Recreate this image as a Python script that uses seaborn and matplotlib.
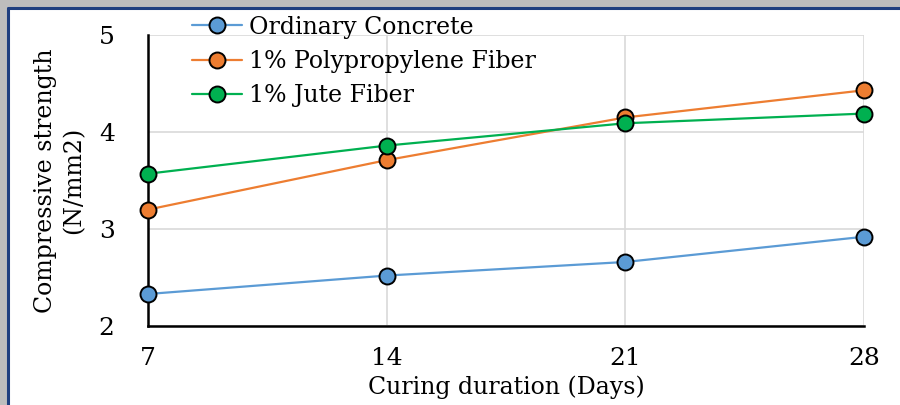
import matplotlib
matplotlib.use("Agg")
import matplotlib.pyplot as plt
import seaborn as sns
import pandas as pd
from matplotlib.patches import Rectangle
from matplotlib.lines import Line2D

days = [7, 14, 21, 28]
ordinary = [2.33, 2.52, 2.66, 2.92]
polypropylene = [3.20, 3.71, 4.15, 4.43]
jute = [3.57, 3.86, 4.09, 4.19]
series_names = ["Ordinary Concrete", "1% Polypropylene Fiber", "1% Jute Fiber"]
colors = ["#5B9BD5", "#ED7D31", "#00B050"]

rows = []
for name, vals in zip(series_names, [ordinary, polypropylene, jute]):
    for d, v in zip(days, vals):
        rows.append({"Days": d, "Strength": v, "Series": name})
df = pd.DataFrame(rows)

sns.set_theme(style="white")
plt.rcParams['font.family'] = ['DejaVu Serif']
plt.rcParams['text.color'] = 'black'
plt.rcParams['axes.labelcolor'] = 'black'

fig = plt.figure(figsize=(9, 4.05), dpi=100)
ax = fig.add_axes([148/900, 1-326/405, (864-148)/900, (326-35)/405])

sns.lineplot(data=df, x="Days", y="Strength", hue="Series", palette=colors,
             hue_order=series_names, marker="o", markersize=11.5,
             markeredgecolor="black", markeredgewidth=1.4, linewidth=1.6,
             ax=ax, legend=False, zorder=3)

ax.set_xlim(7, 28)
ax.set_ylim(2, 5)
ax.set_xticks(days)
ax.set_yticks([2, 3, 4, 5])
ax.grid(True, color="#D9D9D9", linewidth=1.2)
ax.set_axisbelow(True)
for s in ["top", "right"]:
    ax.spines[s].set_visible(False)
for s in ["left", "bottom"]:
    ax.spines[s].set_color("black")
    ax.spines[s].set_linewidth(1.8)
ax.tick_params(axis="both", length=0, labelsize=18, colors="black")
ax.tick_params(axis="y", pad=24)
ax.tick_params(axis="x", pad=15)
for lab in ax.get_xticklabels() + ax.get_yticklabels():
    lab.set_clip_on(False)
for line in ax.lines:
    line.set_clip_on(False)

ax.set_xlabel("Curing duration (Days)", fontsize=17, labelpad=4, color="black")
ax.set_ylabel("Compressive strength\n(N/mm2)", fontsize=17, labelpad=10,
              color="black", linespacing=1.25)

handles = [Line2D([0], [0], color=c, marker="o", markersize=11.5,
                  markerfacecolor=c, markeredgecolor="black",
                  markeredgewidth=1.4, linewidth=1.6) for c in colors]
fig.legend(handles, series_names, loc="upper left",
           bbox_to_anchor=(175/900, 1+1/405), frameon=False, fontsize=17,
           handlelength=2.15, handletextpad=0.3, labelspacing=0.48,
           borderpad=0.2, labelcolor="black")

# frame decoration
fig.patches.append(Rectangle((0, 0), 7/900, 1, transform=fig.transFigure,
                             facecolor="#BDBDBD", edgecolor="none", zorder=0))
fig.patches.append(Rectangle((0, 1-7/405), 1, 7/405, transform=fig.transFigure,
                             facecolor="#BDBDBD", edgecolor="none", zorder=0))
fig.add_artist(Line2D([7.5/900, 7.5/900], [0, 1-7.5/405], transform=fig.transFigure,
                      color="#1F3F7F", linewidth=2.2))
fig.add_artist(Line2D([7.5/900, 1], [1-8/405, 1-8/405], transform=fig.transFigure,
                      color="#1F3F7F", linewidth=2.2))

fig.savefig("out.png", dpi=100)
